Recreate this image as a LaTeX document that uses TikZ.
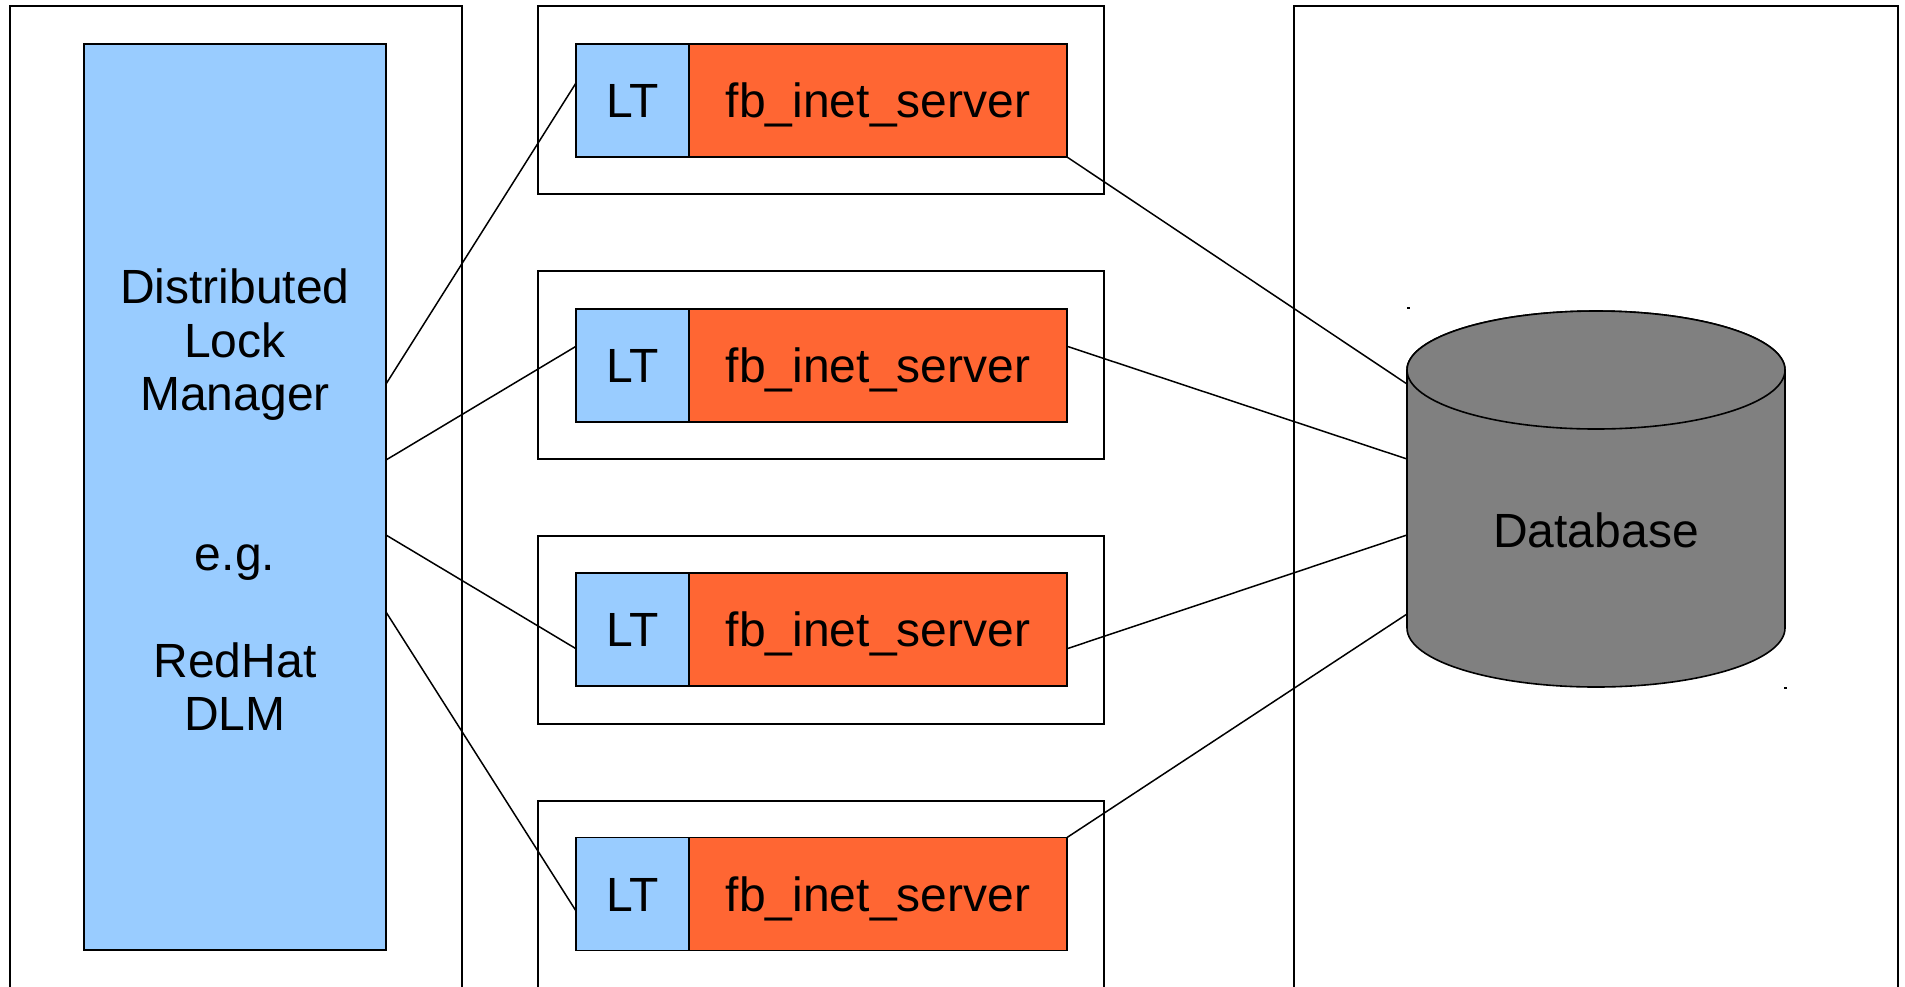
\documentclass[tikz,border=0pt]{standalone}
\usepackage{fontspec}
\setmainfont{Liberation Sans}
\usetikzlibrary{calc}
\definecolor{ltblue}{HTML}{99CCFF}
\definecolor{fborange}{HTML}{FF6633}
\definecolor{dbgray}{HTML}{808080}
\begin{document}
\begin{tikzpicture}[x=0.5pt,y=-0.5pt,
  frame/.style={draw=black, line width=0.7pt, inner sep=0pt, outer sep=0pt},
  blk/.style={draw=black, line width=0.9pt, inner sep=0pt, outer sep=0pt,
    font=\fontsize{24pt}{26.67pt}\selectfont, text height=17.2pt, text depth=0pt},
  ltbox/.style={blk, fill=ltblue, minimum width=56.5pt, minimum height=56.5pt},
  fbbox/.style={blk, fill=fborange, minimum width=189pt, minimum height=56.5pt},
  link/.style={draw=black, line width=0.75pt},
  lbl/.style={font=\fontsize{24pt}{26.67pt}\selectfont, inner sep=0pt, anchor=base}]
\useasboundingbox (0,0) rectangle (1905,986);
\clip (0,0) rectangle (1905,986);

% outer frames
\node[frame, minimum width=226pt, minimum height=500pt] (frameL) at (236,506) {};
\node[frame, minimum width=283pt, minimum height=94pt] (frame1) at (821,100) {};
\node[frame, minimum width=283pt, minimum height=94pt] (frame2) at (821,365) {};
\node[frame, minimum width=283pt, minimum height=94pt] (frame3) at (821,630) {};
\node[frame, minimum width=283pt, minimum height=104.5pt] (frame4) at (821,905.5) {};
\node[frame, minimum width=302pt, minimum height=500pt] (frameR) at (1596,506) {};

% DLM
\node[blk, fill=ltblue, minimum width=151pt, minimum height=453pt] (dlm) at (235,497) {};
\node[lbl] (dlm1) at (235,303) {Distributed};
\node[lbl] (dlm2) at (235,357) {Lock};
\node[lbl] (dlm3) at (235,410) {Manager};
\node[lbl] (dlm4) at (235,570) {e.g.};
\node[lbl] (dlm5) at (235,677) {RedHat};
\node[lbl] (dlm6) at (235,730) {DLM};

% LT / fb_inet_server rows
\node[ltbox] (lt1) at (632.5,100.5) {LT};
\node[fbbox] (fb1) at (878,100.5) {fb\_inet\_server};
\node[ltbox] (lt2) at (632.5,365.5) {LT};
\node[fbbox] (fb2) at (878,365.5) {fb\_inet\_server};
\node[ltbox] (lt3) at (632.5,629.5) {LT};
\node[fbbox] (fb3) at (878,629.5) {fb\_inet\_server};
\node[ltbox] (lt4) at (632.5,894) {LT};
\node[fbbox] (fb4) at (878,894) {fb\_inet\_server};

% database cylinder
\path[fill=dbgray, draw=black, line width=0.8pt]
  (1407,370) -- (1407,628)
  arc[start angle=180, end angle=360, x radius=94.5pt, y radius=29.5pt]
  -- (1785,370)
  arc[start angle=0, end angle=180, x radius=94.5pt, y radius=29.5pt] -- cycle;
\draw[fill=dbgray, line width=0.8pt] (1596,370) ellipse [x radius=94.5pt, y radius=29.5pt];
\node[draw=none, inner sep=0pt, outer sep=0pt, minimum width=189pt, minimum height=130pt] (db) at (1596,498) {};
\node[lbl] (dbl) at (1596,547) {Database};
\fill (1407,307) rectangle (1410,309);
\fill (1784,687) rectangle (1787,689);

% connectors DLM -> LT
\draw[link] ($(dlm.east)+(0,-113)$) -- ($(lt1.north west)!0.345!(lt1.south west)$);
\draw[link] ($(dlm.east)+(0,-37)$) -- ($(lt2.north west)!0.33!(lt2.south west)$);
\draw[link] ($(dlm.east)+(0,38)$) -- ($(lt3.north west)!0.67!(lt3.south west)$);
\draw[link] ($(dlm.east)+(0,115)$) -- ($(lt4.north west)!0.65!(lt4.south west)$);

% connectors fb -> database
\draw[link] (fb1.south east) -- ($(db.west)+(0,-114)$);
\draw[link] ($(fb2.north east)!0.33!(fb2.south east)$) -- ($(db.west)+(0,-39)$);
\draw[link] ($(fb3.north east)!0.67!(fb3.south east)$) -- ($(db.west)+(0,37)$);
\draw[link] (fb4.north east) -- ($(db.west)+(0,116)$);
\end{tikzpicture}
\end{document}
